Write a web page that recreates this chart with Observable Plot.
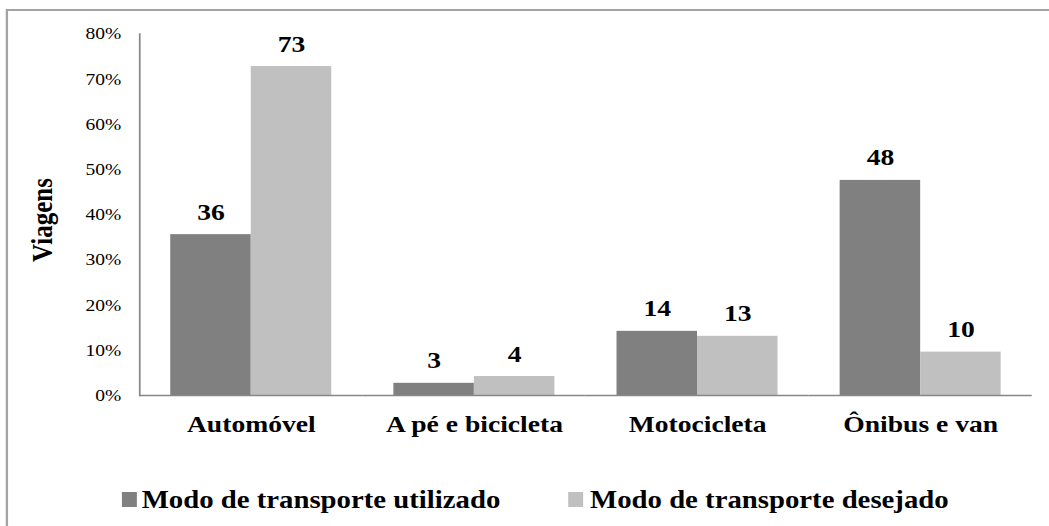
<!DOCTYPE html>
<html>
<head>
<meta charset="utf-8">
<script src="https://cdn.jsdelivr.net/npm/d3@7"></script>
<script src="https://cdn.jsdelivr.net/npm/@observablehq/plot@0.6"></script>
<style>
  html, body { margin: 0; padding: 0; background: #fff; overflow: hidden; }
  #wrap { position: relative; width: 912px; height: 526px; transform: scaleX(1.1502); transform-origin: 0 0; font-family: "Liberation Serif", "Times New Roman", serif; color: #000; }
  #border { position: absolute; left: 5px; top: 9px; width: 1000px; height: 600px; border: 2px solid #a3a3a3; box-sizing: border-box; }
  #chart { position: absolute; left: 0; top: 0; }
  #ylabel { position: absolute; left: 37px; top: 220px; transform: translate(-50%, -50%) rotate(-90deg); font-weight: bold; font-size: 25px; white-space: nowrap; line-height: 1; }
  .sw { position: absolute; top: 492px; width: 13px; height: 15px; }
  .lt { position: absolute; top: 487px; font-weight: bold; font-size: 25px; line-height: 25px; white-space: nowrap; }
</style>
</head>
<body>
<div id="wrap">
  <div id="border"></div>
  <div id="chart"></div>
  <div id="ylabel">Viagens</div>
  <div id="legend"></div>
</div>
<script>
const categories = ["Automóvel", "A pé e bicicleta", "Motocicleta", "Ônibus e van"];
const series = ["Modo de transporte utilizado", "Modo de transporte desejado"];
const utilizado = [35.6, 2.7, 14.2, 47.6];
const desejado = [72.8, 4.2, 13.1, 9.6];
const yTicks = [0, 10, 20, 30, 40, 50, 60, 70, 80];
const colors = ["#808080", "#c0c0c0"];

const data = [];
categories.forEach((c, i) => {
  data.push({cat: c, series: series[0], value: utilizado[i]});
  data.push({cat: c, series: series[1], value: desejado[i]});
});

const chart = Plot.plot({
  width: 912,
  height: 460,
  marginTop: 33.5,
  marginBottom: 65,
  marginLeft: 120,
  marginRight: 14.8,
  style: {fontFamily: "Liberation Serif, Times New Roman, serif", color: "#000", background: "transparent"},
  fx: {domain: categories, padding: 0, label: null},
  x: {domain: series, paddingInner: 0, paddingOuter: 0.37, axis: null},
  y: {domain: [0, 80], label: null},
  color: {domain: series, range: colors},
  marks: [
    Plot.barY(data, {fx: "cat", x: "series", y: "value", fill: "series"}),
    Plot.ruleY([0], {stroke: "#868686", strokeWidth: 1.5}),
    Plot.frame({anchor: "left", facetAnchor: "left", stroke: "#868686", strokeWidth: 1.5}),
    Plot.text(data, {fx: "cat", x: "series", y: "value", text: d => String(Math.round(d.value)), lineAnchor: "bottom", dy: -15, fontSize: 24, fontWeight: "bold", fill: "#000"}),
    Plot.axisY({ticks: yTicks, tickFormat: d => d + "%", tickSize: 0, tickPadding: 16, fontSize: 17, label: null}),
    Plot.axisFx({anchor: "bottom", tickSize: 0, tickPadding: 19, fontSize: 24, fontWeight: "bold", label: null})
  ]
});
document.getElementById("chart").appendChild(chart);

const legend = document.getElementById("legend");
const swX = [105.8, 493.8];
const txX = [123.2, 513];
series.forEach((s, i) => {
  const sw = document.createElement("div");
  sw.className = "sw";
  sw.style.left = swX[i] + "px";
  sw.style.background = colors[i];
  legend.appendChild(sw);
  const t = document.createElement("div");
  t.className = "lt";
  t.style.left = txX[i] + "px";
  t.textContent = s;
  legend.appendChild(t);
});
</script>
</body>
</html>
